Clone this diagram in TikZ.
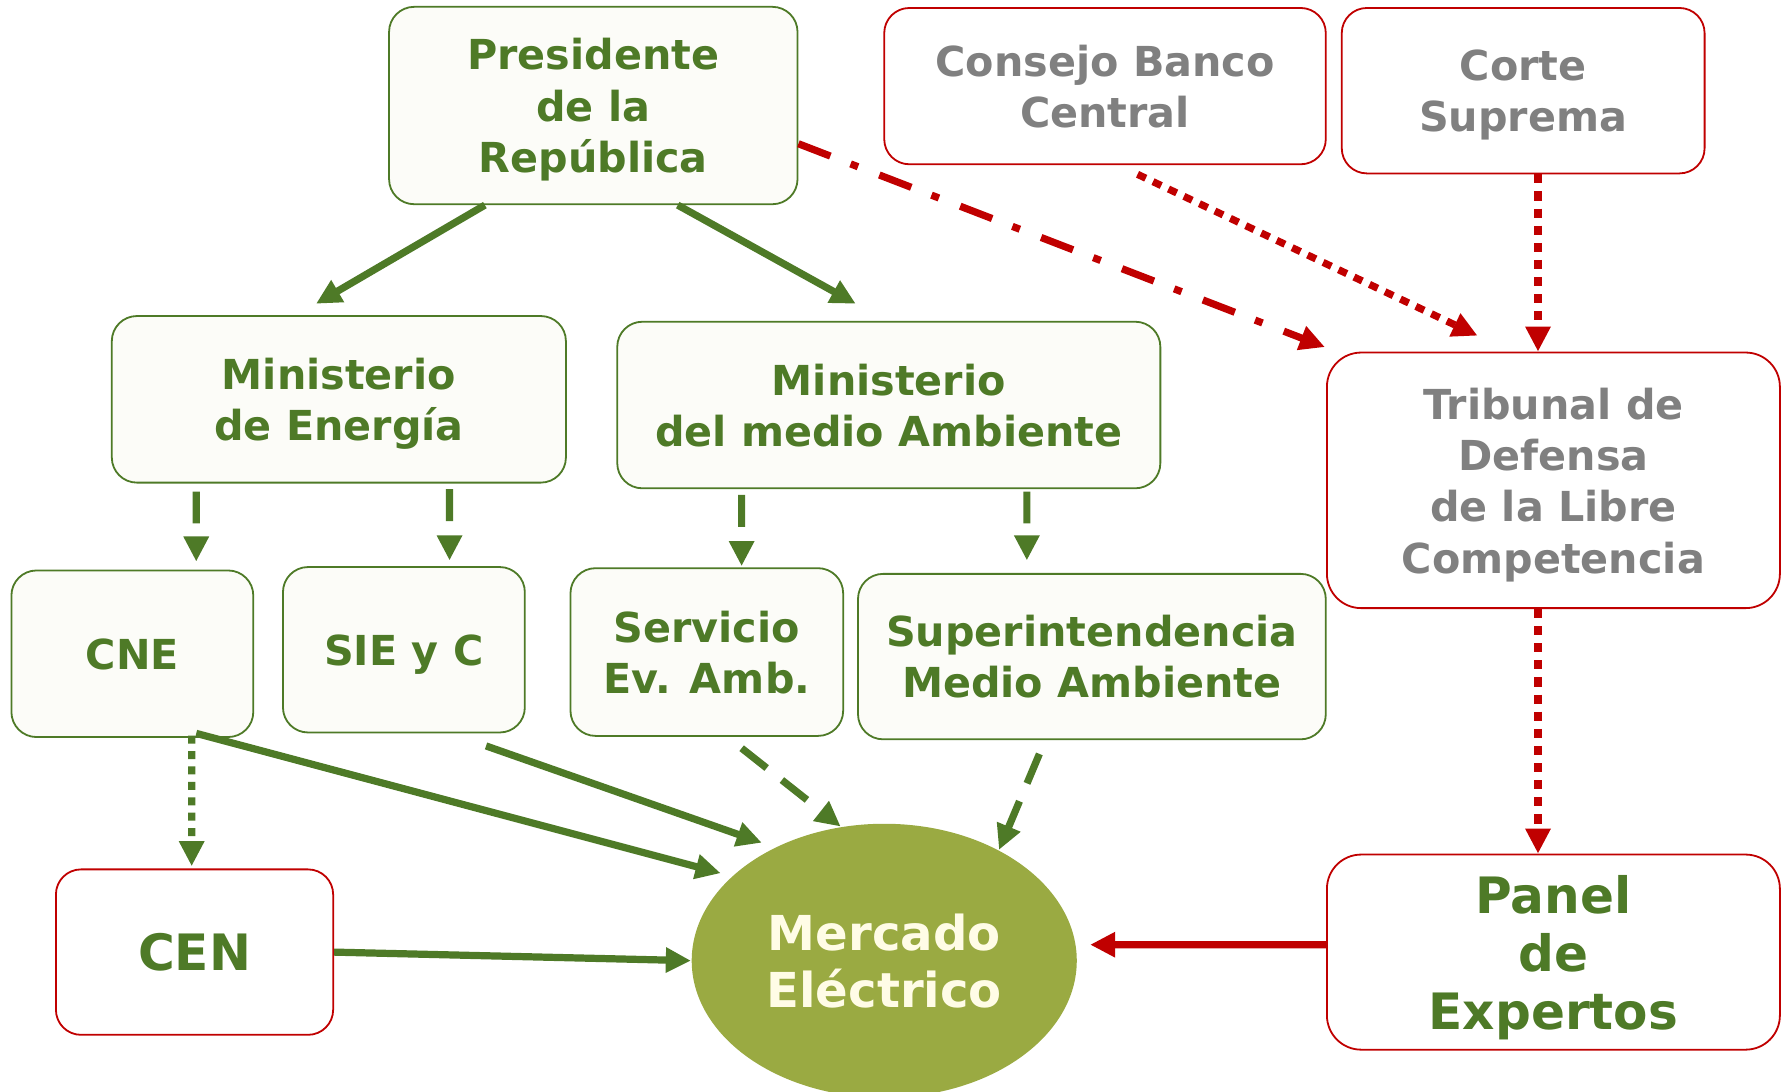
\documentclass[tikz,border=0pt]{standalone}
\usepackage{fontspec}
\setmainfont{DejaVu Sans}
\usetikzlibrary{shapes, arrows, arrows.meta}

\definecolor{verde}{HTML}{4E7A27}
\definecolor{rojo}{HTML}{C00000}
\definecolor{gris}{HTML}{808080}
\definecolor{fondo}{HTML}{FCFCF8}
\definecolor{oliva}{HTML}{9AAA42}
\definecolor{crema}{HTML}{FFFCE6}

\tikzset{
  caja/.style={draw=verde, fill=fondo, line width=0.45pt, rounded corners=0.22cm, align=center,
    text=verde, inner sep=0pt, text depth=0pt, font=\bfseries\fontsize{10.3}{12.8}\selectfont},
  cajar/.style={caja, draw=rojo, fill=white, text=gris},
  grande/.style={font=\bfseries\fontsize{12.5}{14.5}\selectfont},
  flechav/.style={->, line width=1.8pt, draw=verde},
  flechar/.style={->, line width=1.8pt, draw=rojo},
  guion/.style={dash pattern=on 0.28cm off 0.17cm},
  puntos/.style={dash pattern=on 0.07cm off 0.065cm},
  rayapunto/.style={dash pattern=on 0.3cm off 0.19cm on 0.07cm off 0.2cm}
}

\begin{document}
\begin{tikzpicture}[>={Triangle[length=0.22cm, width=0.21cm]}]
            \useasboundingbox (0, 0) rectangle (15.68, -9.571);

            % gobierno
            \node[caja, minimum width=3.58cm, minimum height=1.73cm] (pres) at (5.20, -0.925) {Presidente\\de la\\República};
            \node[caja, minimum width=3.98cm, minimum height=1.46cm] (minE) at (2.97, -3.50) {Ministerio\\de Energía};
            \node[caja, minimum width=4.76cm, minimum height=1.46cm] (minMA) at (7.79, -3.55) {Ministerio\\del medio Ambiente};
            \node[caja, minimum width=2.12cm, minimum height=1.46cm] (cne) at (1.16, -5.73) {CNE};
            \node[caja, minimum width=2.12cm, minimum height=1.45cm] (sie) at (3.54, -5.695) {SIE y C};
            \node[caja, minimum width=2.39cm, minimum height=1.47cm] (sea) at (6.195, -5.715) {Servicio\\Ev. Amb.};
            \node[caja, minimum width=4.10cm, minimum height=1.45cm] (sma) at (9.57, -5.755) {Superintendencia\\Medio Ambiente};

            % independientes
            \node[cajar, minimum width=3.87cm, minimum height=1.37cm] (cbc) at (9.685, -0.755) {Consejo Banco\\Central};
            \node[cajar, minimum width=3.18cm, minimum height=1.45cm] (cs) at (13.35, -0.795) {Corte\\Suprema};
            \node[cajar, rounded corners=0.3cm, minimum width=3.97cm, minimum height=2.24cm] (tdlc) at (13.615, -4.21) {Tribunal de\\Defensa\\de la Libre\\Competencia};
            \node[cajar, grande, text=verde, minimum width=2.43cm, minimum height=1.45cm] (cen) at (1.705, -8.345) {CEN};
            \node[cajar, grande, text=verde, rounded corners=0.3cm, minimum width=3.97cm, minimum height=1.71cm] (panel) at (13.615, -8.345) {Panel\\de\\Expertos};

            \node[ellipse, fill=oliva, text=crema, align=center, inner sep=0pt, minimum width=3.375cm, minimum height=2.40cm,
              font=\bfseries\fontsize{12}{14.2}\selectfont] (merc) at (7.75, -8.42) {Mercado\\Eléctrico};

            \draw[flechav] ([xshift=-0.95cm]pres.south) -- ([xshift=-0.2cm, yshift=0.1cm]minE.north);
            \draw[flechav] ([xshift=0.74cm]pres.south) -- ([xshift=-0.29cm, yshift=0.15cm]minMA.north);
            \draw[flechav, guion] ([xshift=-1.25cm, yshift=-0.07cm]minE.south) -- ([xshift=0.56cm, yshift=0.07cm]cne.north);
            \draw[flechav, guion] ([xshift=0.97cm, yshift=-0.05cm]minE.south) -- ([xshift=0.40cm, yshift=0.05cm]sie.north);
            \draw[flechav, guion] ([xshift=-1.29cm, yshift=-0.05cm]minMA.south) -- ([xshift=0.305cm, yshift=0.01cm]sea.north);
            \draw[flechav, guion] ([xshift=1.21cm, yshift=-0.02cm]minMA.south) -- ([xshift=-0.57cm, yshift=0.11cm]sma.north);
            \draw[flechav, puntos] ([xshift=0.52cm, yshift=0.02cm]cne.south) -- ([xshift=-0.025cm, yshift=0.02cm]cen.north);
            \draw[flechav, shorten >=0.1cm] ([xshift=0.56cm, yshift=0.04cm]cne.south) -- (merc.151);
            \draw[flechav, shorten >=0.12cm] ([xshift=0.72cm, yshift=-0.11cm]sie.south) -- (merc.134);
            \draw[flechav, guion] ([xshift=0.305cm, yshift=-0.10cm]sea.south) -- (merc.108);
            \draw[flechav, guion] ([xshift=-0.46cm, yshift=-0.12cm]sma.south) -- (merc.44);
            \draw[flechav] (cen.east) -- (merc.west);

            \draw[flechar, rayapunto] ([yshift=-0.335cm]pres.east) -- ([xshift=-0.01cm, yshift=0.04cm]tdlc.north west);
            \draw[flechar, dash pattern=on 0.08cm off 0.07cm] ([xshift=0.285cm, yshift=-0.08cm]cbc.south) -- ([xshift=-0.665cm, yshift=0.14cm]tdlc.north);
            \draw[flechar, dash pattern=on 0.08cm off 0.07cm] ([xshift=0.13cm]cs.south) -- ([xshift=-0.135cm]tdlc.north);
            \draw[flechar, dash pattern=on 0.08cm off 0.07cm] ([xshift=-0.135cm]tdlc.south) -- ([xshift=-0.135cm]panel.north);
            \draw[flechar] ([yshift=0.065cm]panel.west) -- ([xshift=0.11cm, yshift=0.14cm]merc.east);
\end{tikzpicture}
\end{document}
